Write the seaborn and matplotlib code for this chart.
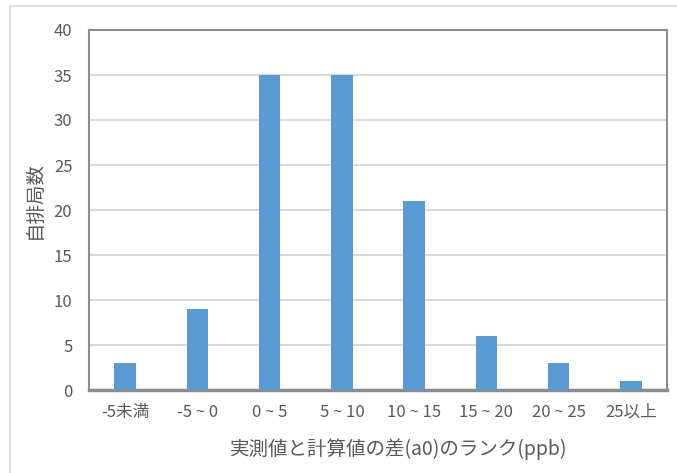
import matplotlib
matplotlib.use("Agg")
import matplotlib.pyplot as plt
import seaborn as sns
import pandas as pd
from matplotlib.patches import Rectangle

categories = ["-5未満", "-5 ~ 0", "0 ~ 5", "5 ~ 10", "10 ~ 15", "15 ~ 20", "20 ~ 25", "25以上"]
counts = [3, 9, 35, 35, 21, 6, 3, 1]
y_ticks = [0, 5, 10, 15, 20, 25, 30, 35, 40]
x_label = "実測値と計算値の差(a0)のランク(ppb)"
y_label = "自排局数"

sns.set_theme(style="white")
plt.rcParams['font.family'] = ['Noto Sans CJK JP', 'DejaVu Sans']

df = pd.DataFrame({"cat": categories, "count": counts})

W, H = 677, 473
fig = plt.figure(figsize=(W / 100, H / 100), dpi=100)
ax = fig.add_axes([89 / W, 1 - 390 / H, (667 - 89) / W, (390 - 30) / H])

sns.barplot(data=df, x="cat", y="count", color="#5B9BD5", saturation=1,
            width=0.3, ax=ax, zorder=3, linewidth=0)

ax.set_ylim(0, 40)
ax.set_yticks(y_ticks)
ax.set_xlim(-0.5, len(categories) - 0.5)
ax.yaxis.grid(True, color="#D9D9D9", linewidth=1.5, zorder=0)
ax.xaxis.grid(False)
ax.set_axisbelow(True)

text_color = "#595959"
ax.tick_params(axis="both", length=0, colors=text_color, labelsize=12)
ax.tick_params(axis="y", pad=12)
ax.tick_params(axis="x", pad=10)

ax.set_xlabel(x_label, fontsize=14, color=text_color)
ax.set_ylabel(y_label, fontsize=14, color=text_color)
ax.xaxis.set_label_coords((399 - 89) / 578, (390 - 438) / 360)
ax.yaxis.set_label_coords((45 - 89) / 578, (390 - 200) / 360)

for side in ["left", "top", "right"]:
    ax.spines[side].set_color("#8C8C8C")
    ax.spines[side].set_linewidth(1.5)
ax.spines["bottom"].set_color("#8C8C8C")
ax.spines["bottom"].set_linewidth(2.5)

fig.patches.append(Rectangle((10 / W, -0.1), 1.2, (H - 6) / H + 0.1,
                             transform=fig.transFigure, fill=False,
                             edgecolor="#D9D9D9", linewidth=1.2))

fig.savefig("out.png", dpi=100, facecolor="white")
